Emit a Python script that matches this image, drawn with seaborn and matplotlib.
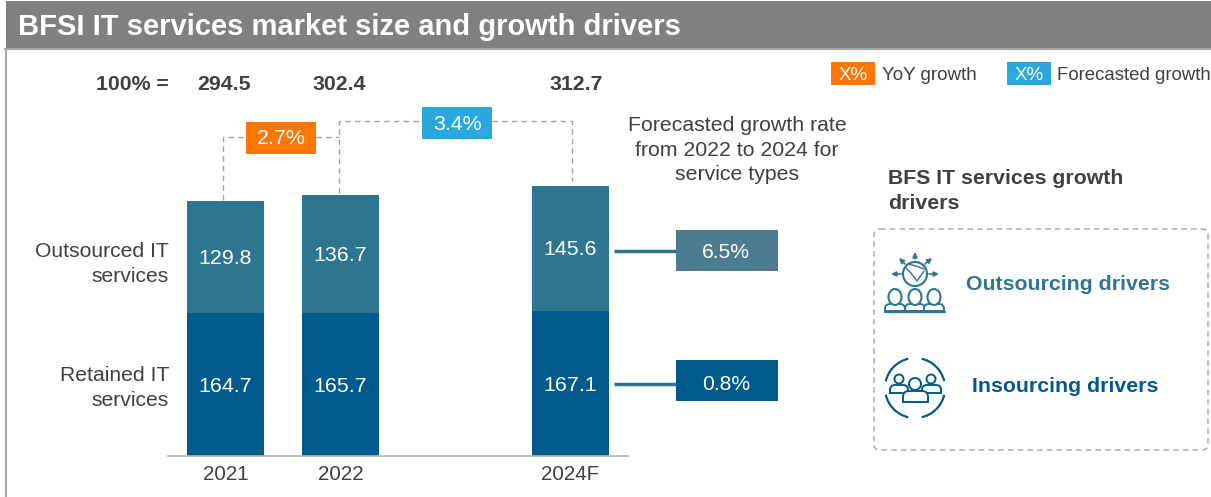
""" BFSI IT services market size and growth drivers """

import pandas as pd
import matplotlib
matplotlib.use("Agg")
import matplotlib.pyplot as plt
from matplotlib.patches import Rectangle, FancyBboxPatch, Circle, Arc, Ellipse, PathPatch
from matplotlib.path import Path
import seaborn as sns

# Data
years = ["2021", "2022", " ", "2024F"]
bar_years = ["2021", "2022", "2024F"]
retained = [164.7, 165.7, 167.1]
outsourced = [129.8, 136.7, 145.6]
totals = [294.5, 302.4, 312.7]
segment_names = ["Retained IT\nservices", "Outsourced IT\nservices"]
yoy_growth = "2.7%"
forecast_growth = "3.4%"
type_growth = ["0.8%", "6.5%"]

# Colours
DARK = "#005A8C"
TEAL = "#2E7590"
TEAL_BOX = "#4D7C91"
ORANGE = "#FF7607"
SKY = "#29A8E0"
HEADER = "#808080"
TEXT = "#404040"
DASH = "#A6A6A6"

sns.set_theme(style="white")
plt.rcParams["font.family"] = ["Liberation Sans", "DejaVu Sans"]

W, H = 1211, 497
fig = plt.figure(figsize=(W / 100, H / 100), dpi=100, facecolor="white")

# Overlay in pixel coordinates for everything that is not a bar
over = fig.add_axes([0, 0, 1, 1], zorder=0)
over.set_xlim(0, W)
over.set_ylim(H, 0)
over.axis("off")

# Bars, the third slot is the empty gap before 2024F
y_top = 340
base_px = 455.5
scale_px = 0.8625
ax = fig.add_axes([168 / W, (H - base_px) / H, 460 / W, y_top * scale_px / H], zorder=1)
ax.patch.set_alpha(0)

df = pd.DataFrame({"year": bar_years, "retained": retained, "outsourced": outsourced})
df["total"] = df["retained"] + df["outsourced"]

sns.barplot(data=df, x="year", y="total", order=years, color=TEAL, saturation=1, width=0.67, linewidth=0, ax=ax)
sns.barplot(data=df, x="year", y="retained", order=years, color=DARK, saturation=1, width=0.67, linewidth=0, ax=ax)

ax.set_xlim(-0.5, 3.5)
ax.set_ylim(0, y_top)
ax.set_xlabel("")
ax.set_ylabel("")
ax.set_yticks([])
ax.set_xticks([0, 1, 3])
ax.set_xticklabels(bar_years)
ax.tick_params(axis="x", length=0, pad=7, labelsize=14.8, labelcolor=TEXT)
for side in ["top", "left", "right"]:
    ax.spines[side].set_visible(False)
ax.spines["bottom"].set_color("#B5B5B5")
ax.spines["bottom"].set_linewidth(1.2)

for pos, r, o in zip([0, 1, 3], retained, outsourced):
    ax.annotate(f"{r}", (pos, r / 2), xytext=(0, -1.5), textcoords="offset points",
                color="white", fontsize=15.4, ha="center", va="center")
    ax.annotate(f"{o}", (pos, r + o / 2), xytext=(0, -1), textcoords="offset points",
                color="white", fontsize=15.4, ha="center", va="center")

# Header band and frame
over.add_patch(Rectangle((6, 1), W - 6, 47, color=HEADER, lw=0))
over.plot([5, W], [49, 49], color="#A6A6A6", lw=1.5)
over.plot([6, 6], [49, H], color="#A6A6A6", lw=1.5)
over.text(18, 27, "BFSI IT services market size and growth drivers", color="white",
          fontsize=21, fontweight="bold", ha="left", va="center")

# Totals row
over.text(169, 85, "100% =", color=TEXT, fontsize=15.3, fontweight="bold", ha="right", va="center")
for px, t in zip([223.5, 339, 576], totals):
    over.text(px, 85, f"{t}", color=TEXT, fontsize=15.3, fontweight="bold", ha="center", va="center")

# Dashed growth connectors
dash = dict(color=DASH, lw=1, ls=(0, (4, 3)))
over.plot([223, 223, 246], [200, 137, 137], **dash)
over.plot([316, 339], [137, 137], **dash)
over.plot([339, 339, 422], [193, 121, 121], **dash)
over.plot([492, 572, 572], [121, 121, 181], **dash)

over.add_patch(Rectangle((246, 122), 70, 32, color=ORANGE, lw=0))
over.text(281, 139, yoy_growth, color="white", fontsize=15.4, ha="center", va="center")
over.add_patch(Rectangle((422, 107), 70, 32, color=SKY, lw=0))
over.text(457, 124, forecast_growth, color="white", fontsize=15.4, ha="center", va="center")

# Legend
over.add_patch(Rectangle((831, 62), 44, 23, color=ORANGE, lw=0))
over.text(853, 75, "X%", color="white", fontsize=13.5, ha="center", va="center")
over.text(882, 75, "YoY growth", color=TEXT, fontsize=13.6, ha="left", va="center")
over.add_patch(Rectangle((1007, 62), 44, 23, color=SKY, lw=0))
over.text(1029, 75, "X%", color="white", fontsize=13.5, ha="center", va="center")
over.text(1057, 75, "Forecasted growth", color=TEXT, fontsize=13.4, ha="left", va="center")

# Segment names on the left
over.text(169, 264, segment_names[1], color=TEXT, fontsize=15.2, ha="right", va="center", linespacing=1.36)
over.text(169, 388, segment_names[0], color=TEXT, fontsize=15.2, ha="right", va="center", linespacing=1.36)

# Growth per service type
over.text(737, 150, "Forecasted growth rate\nfrom 2022 to 2024 for\nservice types", color=TEXT,
          fontsize=15.3, ha="center", va="center", linespacing=1.38)
over.plot([614, 676], [251, 251], color=TEAL, lw=2.5, solid_capstyle="butt")
over.plot([614, 676], [384, 384], color=TEAL, lw=2.5, solid_capstyle="butt")
over.add_patch(Rectangle((676, 230), 102, 41, color=TEAL_BOX, lw=0))
over.text(726, 252, type_growth[1], color="white", fontsize=15.2, ha="center", va="center")
over.add_patch(Rectangle((676, 360), 102, 41, color=DARK, lw=0))
over.text(726, 384, type_growth[0], color="white", fontsize=15.2, ha="center", va="center")

# Drivers panel
over.text(888, 191, "BFS IT services growth\ndrivers", color=TEXT, fontsize=15.3, fontweight="bold",
          ha="left", va="center", linespacing=1.36)
over.add_patch(FancyBboxPatch((874, 229), 334, 221, boxstyle="round,pad=0,rounding_size=6",
                              fc="none", ec=DASH, lw=1, ls=(0, (4, 3))))
over.text(966, 284, "Outsourcing drivers", color=TEAL, fontsize=15.3, fontweight="bold", ha="left", va="center")
over.text(972, 387, "Insourcing drivers", color=DARK, fontsize=15.3, fontweight="bold", ha="left", va="center")


# Outline body with a rounded top, used by both icons
def shoulders(x0, x1, top, bottom, r, color, lw=1.4):
    verts = [(x0, bottom), (x0, top + r), (x0, top), (x0 + r, top), (x1 - r, top), (x1, top), (x1, top + r),
             (x1, bottom), (x0, bottom)]
    codes = [Path.MOVETO, Path.LINETO, Path.CURVE3, Path.CURVE3, Path.LINETO, Path.CURVE3, Path.CURVE3,
             Path.LINETO, Path.CLOSEPOLY]
    over.add_patch(PathPatch(Path(verts, codes), fc="white", ec=color, lw=lw))


# Outsourcing icon: globe with arrows over three people
over.add_patch(Circle((915, 274), 12, fc="none", ec=TEAL, lw=1.5))
over.plot([905, 911, 917, 924], [267, 273, 281, 271], color=TEAL, lw=1)
over.plot([908, 916, 924], [264, 266, 269], color=TEAL, lw=1)
for x0, y0, x1, y1 in [(915, 259, 915, 252), (905, 264, 899, 258), (925, 264, 932, 258),
                       (901, 274, 891, 274), (929, 274, 939, 274)]:
    over.annotate("", xy=(x1, y1), xytext=(x0, y0),
                  arrowprops=dict(arrowstyle="-|>", color=TEAL, lw=1.2, mutation_scale=7, shrinkA=0, shrinkB=0))
for cx in [895, 915, 934]:
    shoulders(cx - 10, cx + 10, 304, 311, 5, TEAL)
    over.add_patch(Ellipse((cx, 297), 13, 16, fc="white", ec=TEAL, lw=1.5))
over.plot([885, 945], [311.5, 311.5], color=TEAL, lw=1.6)

# Insourcing icon: three people inside a broken ring
for start in [13, 103, 193, 283]:
    over.add_patch(Arc((915, 388), 60, 60, theta1=start, theta2=start + 64, color=DARK, lw=1.6))
shoulders(890, 908, 385, 393, 5, DARK)
shoulders(922, 941, 385, 393, 5, DARK)
over.add_patch(Circle((899, 379), 4.5, fc="white", ec=DARK, lw=1.4))
over.add_patch(Circle((931, 379), 4.5, fc="white", ec=DARK, lw=1.4))
shoulders(903, 928, 391, 402, 6, DARK)
over.add_patch(Circle((915, 384), 6, fc="white", ec=DARK, lw=1.4))

fig.savefig("out.png", dpi=100, facecolor="white")
